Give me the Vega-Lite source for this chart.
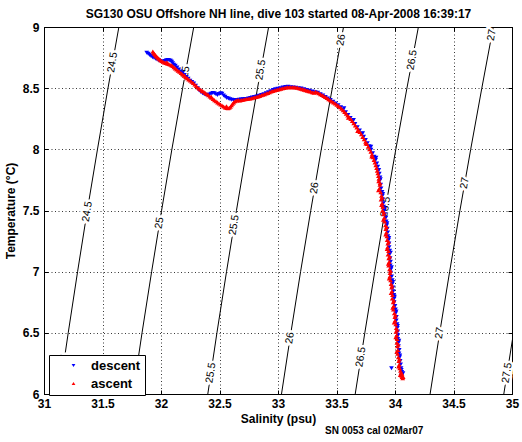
{
"$schema": "https://vega.github.io/schema/vega-lite/v6.json",
"width": 468, "height": 367,
"autosize": {"type": "none"},
"padding": {"left": 44, "top": 27, "right": 10, "bottom": 48},
"background": "white",
"title": {"text": "SN 0053 cal 02Mar07", "orient": "bottom", "anchor": "start", "frame": "group", "dx": 281, "offset": 2, "fontSize": 10, "fontWeight": "bold", "font": "Liberation Sans", "color": "black"},
"config": {
 "view": {"stroke": "black", "strokeWidth": 1},
 "style": {"guide-label": {"font": "Liberation Sans", "fontWeight": 700, "fontSize": 12, "fill": "black"}},
 "axis": {"labelFont": "Liberation Sans", "titleFont": "Liberation Sans", "labelFontSize": 12, "labelFontWeight": 700, "titleFontSize": 12, "titleFontWeight": "bold", "labelColor": "black", "titleColor": "black", "domainColor": "black", "tickColor": "black", "tickSize": -4, "gridColor": "#222", "gridDash": [1, 2.5], "gridOpacity": 0.9, "labelFlush": false, "labelOverlap": false, "labelBound": false}
},
"datasets": {
 "contours": [
  {"lev": "24.5", "S": 31.13, "T": 6}, {"lev": "24.5", "S": 31.207, "T": 6.5}, {"lev": "24.5", "S": 31.287, "T": 7}, {"lev": "24.5", "S": 31.37, "T": 7.5}, {"lev": "24.5", "S": 31.457, "T": 8}, {"lev": "24.5", "S": 31.547, "T": 8.5}, {"lev": "24.5", "S": 31.64, "T": 9},
  {"lev": "25", "S": 31.76, "T": 6}, {"lev": "25", "S": 31.838, "T": 6.5}, {"lev": "25", "S": 31.92, "T": 7}, {"lev": "25", "S": 32.005, "T": 7.5}, {"lev": "25", "S": 32.093, "T": 8}, {"lev": "25", "S": 32.185, "T": 8.5}, {"lev": "25", "S": 32.28, "T": 9},
  {"lev": "25.5", "S": 32.40, "T": 6}, {"lev": "25.5", "S": 32.478, "T": 6.5}, {"lev": "25.5", "S": 32.56, "T": 7}, {"lev": "25.5", "S": 32.645, "T": 7.5}, {"lev": "25.5", "S": 32.733, "T": 8}, {"lev": "25.5", "S": 32.825, "T": 8.5}, {"lev": "25.5", "S": 32.92, "T": 9},
  {"lev": "26", "S": 33.03, "T": 6}, {"lev": "26", "S": 33.11, "T": 6.5}, {"lev": "26", "S": 33.193, "T": 7}, {"lev": "26", "S": 33.28, "T": 7.5}, {"lev": "26", "S": 33.37, "T": 8}, {"lev": "26", "S": 33.464, "T": 8.5}, {"lev": "26", "S": 33.56, "T": 9},
  {"lev": "26.5", "S": 33.66, "T": 6}, {"lev": "26.5", "S": 33.742, "T": 6.5}, {"lev": "26.5", "S": 33.827, "T": 7}, {"lev": "26.5", "S": 33.915, "T": 7.5}, {"lev": "26.5", "S": 34.007, "T": 8}, {"lev": "26.5", "S": 34.102, "T": 8.5}, {"lev": "26.5", "S": 34.20, "T": 9},
  {"lev": "27", "S": 34.30, "T": 6}, {"lev": "27", "S": 34.382, "T": 6.5}, {"lev": "27", "S": 34.467, "T": 7}, {"lev": "27", "S": 34.555, "T": 7.5}, {"lev": "27", "S": 34.647, "T": 8}, {"lev": "27", "S": 34.742, "T": 8.5}, {"lev": "27", "S": 34.84, "T": 9},
  {"lev": "27.5", "S": 34.93, "T": 6}, {"lev": "27.5", "S": 35.013, "T": 6.5}, {"lev": "27.5", "S": 35.10, "T": 7}
 ],
 "labels": [
  {"lev": "24.5", "S": 31.586, "T": 8.71}, {"lev": "24.5", "S": 31.37, "T": 7.49}, {"lev": "24.5", "S": 31.166, "T": 6.24},
  {"lev": "25", "S": 32.21, "T": 8.632}, {"lev": "25", "S": 31.987, "T": 7.398},
  {"lev": "25.5", "S": 32.853, "T": 8.649}, {"lev": "25.5", "S": 32.625, "T": 7.381}, {"lev": "25.5", "S": 32.427, "T": 6.172},
  {"lev": "26", "S": 33.54, "T": 8.894}, {"lev": "26", "S": 33.313, "T": 7.684}, {"lev": "26", "S": 33.103, "T": 6.458},
  {"lev": "26.5", "S": 34.147, "T": 8.73}, {"lev": "26.5", "S": 33.92, "T": 7.529}, {"lev": "26.5", "S": 33.709, "T": 6.302},
  {"lev": "27", "S": 34.827, "T": 8.935}, {"lev": "27", "S": 34.596, "T": 7.725}, {"lev": "27", "S": 34.381, "T": 6.499},
  {"lev": "27.5", "S": 34.958, "T": 6.172}
 ],
 "profile": [
  {"c":"descent","S":31.878,"T":8.790},{"c":"descent","S":31.890,"T":8.781},{"c":"descent","S":31.902,"T":8.772},{"c":"descent","S":31.915,"T":8.762},{"c":"descent","S":31.928,"T":8.754},{"c":"descent","S":31.940,"T":8.748},{"c":"descent","S":31.953,"T":8.741},{"c":"descent","S":31.966,"T":8.734},{"c":"descent","S":31.980,"T":8.728},{"c":"descent","S":31.993,"T":8.722},
  {"c":"descent","S":32.006,"T":8.718},{"c":"descent","S":32.020,"T":8.716},{"c":"descent","S":32.033,"T":8.722},{"c":"descent","S":32.046,"T":8.728},{"c":"descent","S":32.058,"T":8.731},{"c":"descent","S":32.070,"T":8.727},{"c":"descent","S":32.082,"T":8.724},{"c":"descent","S":32.092,"T":8.716},{"c":"descent","S":32.100,"T":8.703},{"c":"descent","S":32.110,"T":8.692},
  {"c":"descent","S":32.122,"T":8.682},{"c":"descent","S":32.137,"T":8.668},{"c":"descent","S":32.152,"T":8.652},{"c":"descent","S":32.168,"T":8.637},{"c":"descent","S":32.184,"T":8.624},{"c":"descent","S":32.200,"T":8.608},{"c":"descent","S":32.216,"T":8.592},{"c":"descent","S":32.232,"T":8.576},{"c":"descent","S":32.248,"T":8.561},{"c":"descent","S":32.264,"T":8.550},
  {"c":"descent","S":32.280,"T":8.537},{"c":"descent","S":32.296,"T":8.520},{"c":"descent","S":32.312,"T":8.500},{"c":"descent","S":32.326,"T":8.481},{"c":"descent","S":32.340,"T":8.468},{"c":"descent","S":32.355,"T":8.458},{"c":"descent","S":32.370,"T":8.450},{"c":"descent","S":32.385,"T":8.444},{"c":"descent","S":32.400,"T":8.444},{"c":"descent","S":32.414,"T":8.448},
  {"c":"descent","S":32.428,"T":8.455},{"c":"descent","S":32.442,"T":8.460},{"c":"descent","S":32.456,"T":8.458},{"c":"descent","S":32.470,"T":8.450},{"c":"descent","S":32.483,"T":8.444},{"c":"descent","S":32.497,"T":8.452},{"c":"descent","S":32.510,"T":8.458},{"c":"descent","S":32.522,"T":8.455},{"c":"descent","S":32.535,"T":8.440},{"c":"descent","S":32.548,"T":8.430},
  {"c":"descent","S":32.562,"T":8.420},{"c":"descent","S":32.576,"T":8.416},{"c":"descent","S":32.590,"T":8.410},{"c":"descent","S":32.605,"T":8.405},{"c":"descent","S":32.620,"T":8.403},{"c":"descent","S":32.636,"T":8.404},{"c":"descent","S":32.652,"T":8.403},{"c":"descent","S":32.668,"T":8.406},{"c":"descent","S":32.684,"T":8.408},{"c":"descent","S":32.700,"T":8.409},
  {"c":"descent","S":32.716,"T":8.411},{"c":"descent","S":32.732,"T":8.411},{"c":"descent","S":32.748,"T":8.416},{"c":"descent","S":32.764,"T":8.420},{"c":"descent","S":32.780,"T":8.423},{"c":"descent","S":32.798,"T":8.427},{"c":"descent","S":32.818,"T":8.432},{"c":"descent","S":32.838,"T":8.438},{"c":"descent","S":32.858,"T":8.444},{"c":"descent","S":32.878,"T":8.450},
  {"c":"descent","S":32.898,"T":8.458},{"c":"descent","S":32.918,"T":8.466},{"c":"descent","S":32.938,"T":8.474},{"c":"descent","S":32.958,"T":8.484},{"c":"descent","S":32.978,"T":8.491},{"c":"descent","S":32.998,"T":8.496},{"c":"descent","S":33.020,"T":8.500},{"c":"descent","S":33.042,"T":8.505},{"c":"descent","S":33.064,"T":8.510},{"c":"descent","S":33.086,"T":8.512},
  {"c":"descent","S":33.108,"T":8.507},{"c":"descent","S":33.130,"T":8.506},{"c":"descent","S":33.152,"T":8.504},{"c":"descent","S":33.175,"T":8.500},{"c":"descent","S":33.198,"T":8.497},{"c":"descent","S":33.222,"T":8.490},{"c":"descent","S":33.246,"T":8.484},{"c":"descent","S":33.270,"T":8.478},{"c":"descent","S":33.294,"T":8.472},{"c":"descent","S":33.318,"T":8.466},
  {"c":"descent","S":33.340,"T":8.462},{"c":"descent","S":33.362,"T":8.451},{"c":"descent","S":33.384,"T":8.440},{"c":"descent","S":33.405,"T":8.428},{"c":"descent","S":33.426,"T":8.415},{"c":"descent","S":33.448,"T":8.402},{"c":"descent","S":33.470,"T":8.389},{"c":"descent","S":33.492,"T":8.375},{"c":"descent","S":33.514,"T":8.360},{"c":"descent","S":33.536,"T":8.343},
  {"c":"descent","S":33.557,"T":8.324},{"c":"descent","S":33.578,"T":8.303},{"c":"descent","S":33.598,"T":8.280},{"c":"descent","S":33.618,"T":8.256},{"c":"descent","S":33.638,"T":8.232},{"c":"descent","S":33.658,"T":8.206},{"c":"descent","S":33.678,"T":8.180},{"c":"descent","S":33.697,"T":8.154},{"c":"descent","S":33.715,"T":8.128},{"c":"descent","S":33.732,"T":8.102},
  {"c":"descent","S":33.748,"T":8.076},{"c":"descent","S":33.764,"T":8.050},{"c":"descent","S":33.780,"T":8.024},{"c":"descent","S":33.795,"T":7.996},{"c":"descent","S":33.809,"T":7.968},{"c":"descent","S":33.822,"T":7.940},{"c":"descent","S":33.834,"T":7.912},{"c":"descent","S":33.845,"T":7.884},{"c":"descent","S":33.853,"T":7.858},{"c":"descent","S":33.862,"T":7.830},
  {"c":"descent","S":33.866,"T":7.800},{"c":"descent","S":33.872,"T":7.770},{"c":"descent","S":33.868,"T":7.740},{"c":"descent","S":33.878,"T":7.710},{"c":"descent","S":33.881,"T":7.680},{"c":"descent","S":33.889,"T":7.650},{"c":"descent","S":33.893,"T":7.620},{"c":"descent","S":33.897,"T":7.590},{"c":"descent","S":33.901,"T":7.560},{"c":"descent","S":33.904,"T":7.530},
  {"c":"descent","S":33.910,"T":7.500},{"c":"descent","S":33.913,"T":7.470},{"c":"descent","S":33.922,"T":7.440},{"c":"descent","S":33.925,"T":7.410},{"c":"descent","S":33.930,"T":7.380},{"c":"descent","S":33.934,"T":7.350},{"c":"descent","S":33.938,"T":7.320},{"c":"descent","S":33.940,"T":7.290},{"c":"descent","S":33.946,"T":7.260},{"c":"descent","S":33.949,"T":7.230},
  {"c":"descent","S":33.950,"T":7.200},{"c":"descent","S":33.955,"T":7.170},{"c":"descent","S":33.952,"T":7.140},{"c":"descent","S":33.958,"T":7.110},{"c":"descent","S":33.962,"T":7.080},{"c":"descent","S":33.960,"T":7.050},{"c":"descent","S":33.966,"T":7.020},{"c":"descent","S":33.964,"T":6.990},{"c":"descent","S":33.972,"T":6.960},{"c":"descent","S":33.976,"T":6.930},
  {"c":"descent","S":33.978,"T":6.900},{"c":"descent","S":33.984,"T":6.870},{"c":"descent","S":33.986,"T":6.840},{"c":"descent","S":33.990,"T":6.810},{"c":"descent","S":33.994,"T":6.780},{"c":"descent","S":33.993,"T":6.750},{"c":"descent","S":34.000,"T":6.720},{"c":"descent","S":34.004,"T":6.690},{"c":"descent","S":34.006,"T":6.660},{"c":"descent","S":34.012,"T":6.630},
  {"c":"descent","S":34.011,"T":6.600},{"c":"descent","S":34.018,"T":6.570},{"c":"descent","S":34.020,"T":6.540},{"c":"descent","S":34.024,"T":6.510},{"c":"descent","S":34.026,"T":6.480},{"c":"descent","S":34.024,"T":6.450},{"c":"descent","S":34.031,"T":6.420},{"c":"descent","S":34.030,"T":6.390},{"c":"descent","S":34.036,"T":6.360},{"c":"descent","S":34.034,"T":6.330},
  {"c":"descent","S":34.040,"T":6.300},{"c":"descent","S":34.044,"T":6.270},{"c":"descent","S":34.048,"T":6.240},{"c":"descent","S":34.052,"T":6.210},{"c":"descent","S":34.058,"T":6.180},{"c":"descent","S":34.062,"T":6.160},{"c":"descent","S":34.055,"T":6.150},{"c":"descent","S":33.970,"T":6.210},
  {"c":"descent","S":33.876,"T":7.755},{"c":"descent","S":33.896,"T":7.635},{"c":"descent","S":33.912,"T":7.515},{"c":"descent","S":33.932,"T":7.395},{"c":"descent","S":33.948,"T":7.275},{"c":"descent","S":33.962,"T":7.155},{"c":"descent","S":33.970,"T":7.035},{"c":"descent","S":33.982,"T":6.915},{"c":"descent","S":33.996,"T":6.795},{"c":"descent","S":34.010,"T":6.675},
  {"c":"descent","S":34.022,"T":6.555},{"c":"descent","S":34.034,"T":6.435},{"c":"descent","S":34.042,"T":6.315},{"c":"descent","S":34.054,"T":6.195},{"c":"descent","S":34.068,"T":6.170},{"c":"descent","S":33.564,"T":8.336},{"c":"descent","S":33.646,"T":8.240},{"c":"descent","S":33.724,"T":8.132},{"c":"descent","S":33.794,"T":8.020},{"c":"descent","S":33.838,"T":7.930},
  {"c":"ascent","S":31.930,"T":8.800},{"c":"ascent","S":31.937,"T":8.790},{"c":"ascent","S":31.944,"T":8.780},{"c":"ascent","S":31.952,"T":8.770},{"c":"ascent","S":31.960,"T":8.761},{"c":"ascent","S":31.968,"T":8.752},{"c":"ascent","S":31.977,"T":8.744},{"c":"ascent","S":31.986,"T":8.736},{"c":"ascent","S":31.996,"T":8.729},{"c":"ascent","S":32.006,"T":8.722},
  {"c":"ascent","S":32.017,"T":8.716},{"c":"ascent","S":32.028,"T":8.710},{"c":"ascent","S":32.040,"T":8.706},{"c":"ascent","S":32.052,"T":8.702},{"c":"ascent","S":32.064,"T":8.698},{"c":"ascent","S":32.076,"T":8.693},{"c":"ascent","S":32.088,"T":8.688},{"c":"ascent","S":32.099,"T":8.681},{"c":"ascent","S":32.110,"T":8.672},{"c":"ascent","S":32.121,"T":8.662},
  {"c":"ascent","S":32.133,"T":8.652},{"c":"ascent","S":32.145,"T":8.643},{"c":"ascent","S":32.158,"T":8.634},{"c":"ascent","S":32.171,"T":8.624},{"c":"ascent","S":32.184,"T":8.613},{"c":"ascent","S":32.197,"T":8.602},{"c":"ascent","S":32.210,"T":8.592},{"c":"ascent","S":32.223,"T":8.582},{"c":"ascent","S":32.236,"T":8.572},{"c":"ascent","S":32.249,"T":8.562},
  {"c":"ascent","S":32.262,"T":8.552},{"c":"ascent","S":32.275,"T":8.542},{"c":"ascent","S":32.288,"T":8.530},{"c":"ascent","S":32.301,"T":8.518},{"c":"ascent","S":32.314,"T":8.506},{"c":"ascent","S":32.327,"T":8.496},{"c":"ascent","S":32.340,"T":8.487},{"c":"ascent","S":32.353,"T":8.478},{"c":"ascent","S":32.366,"T":8.470},{"c":"ascent","S":32.379,"T":8.461},
  {"c":"ascent","S":32.392,"T":8.452},{"c":"ascent","S":32.405,"T":8.443},{"c":"ascent","S":32.418,"T":8.432},{"c":"ascent","S":32.431,"T":8.422},{"c":"ascent","S":32.444,"T":8.412},{"c":"ascent","S":32.457,"T":8.402},{"c":"ascent","S":32.470,"T":8.393},{"c":"ascent","S":32.483,"T":8.384},{"c":"ascent","S":32.496,"T":8.375},{"c":"ascent","S":32.509,"T":8.366},
  {"c":"ascent","S":32.522,"T":8.358},{"c":"ascent","S":32.535,"T":8.350},{"c":"ascent","S":32.548,"T":8.343},{"c":"ascent","S":32.561,"T":8.338},{"c":"ascent","S":32.573,"T":8.336},{"c":"ascent","S":32.584,"T":8.340},{"c":"ascent","S":32.594,"T":8.348},{"c":"ascent","S":32.603,"T":8.360},{"c":"ascent","S":32.612,"T":8.372},{"c":"ascent","S":32.622,"T":8.384},
  {"c":"ascent","S":32.634,"T":8.394},{"c":"ascent","S":32.648,"T":8.400},{"c":"ascent","S":32.662,"T":8.402},{"c":"ascent","S":32.676,"T":8.400},{"c":"ascent","S":32.690,"T":8.404},{"c":"ascent","S":32.704,"T":8.406},{"c":"ascent","S":32.718,"T":8.409},{"c":"ascent","S":32.732,"T":8.412},{"c":"ascent","S":32.746,"T":8.414},{"c":"ascent","S":32.760,"T":8.416},
  {"c":"ascent","S":32.774,"T":8.418},{"c":"ascent","S":32.788,"T":8.422},{"c":"ascent","S":32.802,"T":8.425},{"c":"ascent","S":32.816,"T":8.428},{"c":"ascent","S":32.830,"T":8.433},{"c":"ascent","S":32.844,"T":8.437},{"c":"ascent","S":32.858,"T":8.442},{"c":"ascent","S":32.872,"T":8.446},{"c":"ascent","S":32.886,"T":8.451},{"c":"ascent","S":32.900,"T":8.456},
  {"c":"ascent","S":32.914,"T":8.461},{"c":"ascent","S":32.928,"T":8.467},{"c":"ascent","S":32.942,"T":8.472},{"c":"ascent","S":32.956,"T":8.477},{"c":"ascent","S":32.970,"T":8.481},{"c":"ascent","S":32.984,"T":8.485},{"c":"ascent","S":32.998,"T":8.489},{"c":"ascent","S":33.012,"T":8.492},{"c":"ascent","S":33.026,"T":8.496},{"c":"ascent","S":33.040,"T":8.499},
  {"c":"ascent","S":33.054,"T":8.502},{"c":"ascent","S":33.068,"T":8.505},{"c":"ascent","S":33.082,"T":8.507},{"c":"ascent","S":33.096,"T":8.508},{"c":"ascent","S":33.110,"T":8.508},{"c":"ascent","S":33.124,"T":8.508},{"c":"ascent","S":33.138,"T":8.507},{"c":"ascent","S":33.152,"T":8.505},{"c":"ascent","S":33.166,"T":8.503},{"c":"ascent","S":33.180,"T":8.500},
  {"c":"ascent","S":33.194,"T":8.496},{"c":"ascent","S":33.208,"T":8.492},{"c":"ascent","S":33.222,"T":8.488},{"c":"ascent","S":33.236,"T":8.484},{"c":"ascent","S":33.250,"T":8.480},{"c":"ascent","S":33.264,"T":8.476},{"c":"ascent","S":33.278,"T":8.472},{"c":"ascent","S":33.292,"T":8.467},{"c":"ascent","S":33.306,"T":8.462},{"c":"ascent","S":33.320,"T":8.470},
  {"c":"ascent","S":33.334,"T":8.464},{"c":"ascent","S":33.348,"T":8.458},{"c":"ascent","S":33.362,"T":8.451},{"c":"ascent","S":33.376,"T":8.444},{"c":"ascent","S":33.390,"T":8.436},{"c":"ascent","S":33.404,"T":8.428},{"c":"ascent","S":33.418,"T":8.419},{"c":"ascent","S":33.432,"T":8.410},{"c":"ascent","S":33.446,"T":8.401},{"c":"ascent","S":33.460,"T":8.392},
  {"c":"ascent","S":33.474,"T":8.383},{"c":"ascent","S":33.488,"T":8.374},{"c":"ascent","S":33.502,"T":8.365},{"c":"ascent","S":33.516,"T":8.355},{"c":"ascent","S":33.530,"T":8.344},{"c":"ascent","S":33.543,"T":8.333},{"c":"ascent","S":33.556,"T":8.320},{"c":"ascent","S":33.569,"T":8.306},{"c":"ascent","S":33.582,"T":8.292},{"c":"ascent","S":33.595,"T":8.277},
  {"c":"ascent","S":33.608,"T":8.262},{"c":"ascent","S":33.621,"T":8.248},{"c":"ascent","S":33.634,"T":8.232},{"c":"ascent","S":33.647,"T":8.214},{"c":"ascent","S":33.660,"T":8.195},{"c":"ascent","S":33.673,"T":8.178},{"c":"ascent","S":33.686,"T":8.160},{"c":"ascent","S":33.699,"T":8.142},{"c":"ascent","S":33.712,"T":8.123},{"c":"ascent","S":33.724,"T":8.102},
  {"c":"ascent","S":33.736,"T":8.082},{"c":"ascent","S":33.748,"T":8.062},{"c":"ascent","S":33.760,"T":8.043},{"c":"ascent","S":33.771,"T":8.022},{"c":"ascent","S":33.782,"T":8.001},{"c":"ascent","S":33.793,"T":7.980},{"c":"ascent","S":33.803,"T":7.958},{"c":"ascent","S":33.812,"T":7.936},{"c":"ascent","S":33.820,"T":7.914},{"c":"ascent","S":33.828,"T":7.892},
  {"c":"ascent","S":33.835,"T":7.870},{"c":"ascent","S":33.842,"T":7.848},{"c":"ascent","S":33.848,"T":7.826},{"c":"ascent","S":33.853,"T":7.804},{"c":"ascent","S":33.858,"T":7.782},{"c":"ascent","S":33.862,"T":7.760},{"c":"ascent","S":33.860,"T":7.740},{"c":"ascent","S":33.870,"T":7.710},{"c":"ascent","S":33.866,"T":7.680},{"c":"ascent","S":33.878,"T":7.650},
  {"c":"ascent","S":33.884,"T":7.620},{"c":"ascent","S":33.880,"T":7.590},{"c":"ascent","S":33.890,"T":7.560},{"c":"ascent","S":33.896,"T":7.530},{"c":"ascent","S":33.893,"T":7.500},{"c":"ascent","S":33.902,"T":7.470},{"c":"ascent","S":33.908,"T":7.440},{"c":"ascent","S":33.912,"T":7.410},{"c":"ascent","S":33.918,"T":7.380},{"c":"ascent","S":33.921,"T":7.350},
  {"c":"ascent","S":33.926,"T":7.320},{"c":"ascent","S":33.930,"T":7.290},{"c":"ascent","S":33.933,"T":7.260},{"c":"ascent","S":33.938,"T":7.230},{"c":"ascent","S":33.936,"T":7.200},{"c":"ascent","S":33.944,"T":7.170},{"c":"ascent","S":33.940,"T":7.140},{"c":"ascent","S":33.946,"T":7.110},{"c":"ascent","S":33.950,"T":7.080},{"c":"ascent","S":33.946,"T":7.050},
  {"c":"ascent","S":33.953,"T":7.020},{"c":"ascent","S":33.957,"T":6.990},{"c":"ascent","S":33.955,"T":6.960},{"c":"ascent","S":33.962,"T":6.930},{"c":"ascent","S":33.966,"T":6.900},{"c":"ascent","S":33.970,"T":6.870},{"c":"ascent","S":33.974,"T":6.840},{"c":"ascent","S":33.978,"T":6.810},{"c":"ascent","S":33.976,"T":6.780},{"c":"ascent","S":33.984,"T":6.750},
  {"c":"ascent","S":33.988,"T":6.720},{"c":"ascent","S":33.986,"T":6.690},{"c":"ascent","S":33.994,"T":6.660},{"c":"ascent","S":33.998,"T":6.630},{"c":"ascent","S":34.000,"T":6.600},{"c":"ascent","S":34.006,"T":6.570},{"c":"ascent","S":34.010,"T":6.540},{"c":"ascent","S":34.008,"T":6.510},{"c":"ascent","S":34.014,"T":6.480},{"c":"ascent","S":34.018,"T":6.450},
  {"c":"ascent","S":34.016,"T":6.420},{"c":"ascent","S":34.020,"T":6.390},{"c":"ascent","S":34.024,"T":6.360},{"c":"ascent","S":34.022,"T":6.330},{"c":"ascent","S":34.028,"T":6.300},{"c":"ascent","S":34.032,"T":6.270},{"c":"ascent","S":34.036,"T":6.240},{"c":"ascent","S":34.040,"T":6.210},{"c":"ascent","S":34.046,"T":6.190},{"c":"ascent","S":34.050,"T":6.170},
  {"c":"ascent","S":34.056,"T":6.150},{"c":"ascent","S":34.060,"T":6.140},{"c":"ascent","S":34.066,"T":6.130},
  {"c":"ascent","S":33.872,"T":7.725},{"c":"ascent","S":33.858,"T":7.665},{"c":"ascent","S":33.889,"T":7.605},{"c":"ascent","S":33.884,"T":7.545},{"c":"ascent","S":33.905,"T":7.485},{"c":"ascent","S":33.900,"T":7.425},{"c":"ascent","S":33.928,"T":7.365},{"c":"ascent","S":33.920,"T":7.305},{"c":"ascent","S":33.945,"T":7.245},{"c":"ascent","S":33.932,"T":7.185},
  {"c":"ascent","S":33.955,"T":7.125},{"c":"ascent","S":33.942,"T":7.065},{"c":"ascent","S":33.962,"T":7.005},{"c":"ascent","S":33.950,"T":6.945},{"c":"ascent","S":33.975,"T":6.885},{"c":"ascent","S":33.966,"T":6.825},{"c":"ascent","S":33.990,"T":6.765},{"c":"ascent","S":33.980,"T":6.705},{"c":"ascent","S":34.004,"T":6.645},{"c":"ascent","S":33.992,"T":6.585},
  {"c":"ascent","S":34.018,"T":6.525},{"c":"ascent","S":34.006,"T":6.465},{"c":"ascent","S":34.028,"T":6.405},{"c":"ascent","S":34.014,"T":6.345},{"c":"ascent","S":34.038,"T":6.285},{"c":"ascent","S":34.030,"T":6.225},{"c":"ascent","S":34.060,"T":6.165},{"c":"ascent","S":34.044,"T":6.155},{"c":"ascent","S":34.070,"T":6.140},
  {"c":"ascent","S":33.600,"T":8.258},{"c":"ascent","S":33.680,"T":8.150},{"c":"ascent","S":33.750,"T":8.048},{"c":"ascent","S":33.800,"T":7.942},{"c":"ascent","S":32.560,"T":8.352},{"c":"ascent","S":32.430,"T":8.430},{"c":"ascent","S":32.050,"T":8.712},{"c":"ascent","S":32.200,"T":8.604}
 ]
},
"layer": [
 {
  "data": {"name": "contours"},
  "mark": {"type": "line", "color": "black", "strokeWidth": 1, "clip": true},
  "encoding": {
   "x": {"field": "S", "type": "quantitative", "scale": {"domain": [31, 35], "nice": false, "zero": false}, "axis": {"orient": "bottom", "values": [31, 31.5, 32, 32.5, 33, 33.5, 34, 34.5, 35], "format": "~g", "title": "Salinity (psu)", "grid": true, "labelPadding": 8, "titlePadding": 4, "labelFontWeight": 700, "labelFontSize": 12, "titleFontWeight": "bold", "labelFont": "Liberation Sans"}},
   "y": {"field": "T", "type": "quantitative", "scale": {"domain": [6, 9], "nice": false, "zero": false}, "axis": {"orient": "left", "values": [6, 6.5, 7, 7.5, 8, 8.5, 9], "format": "~g", "title": "Temperature (°C)", "grid": true, "labelPadding": 9, "titlePadding": 5, "labelFontWeight": 700, "labelFontSize": 12, "titleFontWeight": "bold", "labelFont": "Liberation Sans"}},
   "detail": {"field": "lev"},
   "order": {"field": "T", "type": "quantitative"}
  }
 },
 {
  "data": {"name": "labels"},
  "mark": {"type": "text", "angle": -81, "fontSize": 10.5, "font": "Liberation Sans", "color": "white", "stroke": "white", "strokeWidth": 5, "align": "center", "baseline": "middle"},
  "encoding": {
   "x": {"field": "S", "type": "quantitative", "axis": null},
   "y": {"field": "T", "type": "quantitative", "axis": null},
   "text": {"field": "lev"}
  }
 },
 {
  "data": {"name": "labels"},
  "mark": {"type": "text", "angle": -81, "fontSize": 10.5, "font": "Liberation Sans", "color": "black", "align": "center", "baseline": "middle"},
  "encoding": {
   "x": {"field": "S", "type": "quantitative", "axis": null},
   "y": {"field": "T", "type": "quantitative", "axis": null},
   "text": {"field": "lev"}
  }
 },
 {
  "data": {"name": "profile"},
  "mark": {"type": "point", "filled": true, "size": 22, "opacity": 1, "strokeWidth": 0},
  "encoding": {
   "x": {"field": "S", "type": "quantitative", "axis": {"orient": "top", "values": [31, 31.5, 32, 32.5, 33, 33.5, 34, 34.5, 35], "labels": false, "grid": false, "title": "SG130 OSU Offshore NH line, dive 103 started 08-Apr-2008 16:39:17", "titlePadding": 6, "titleFontWeight": "bold"}},
   "y": {"field": "T", "type": "quantitative", "axis": {"orient": "right", "values": [6, 6.5, 7, 7.5, 8, 8.5, 9], "labels": false, "grid": false, "title": null}},
   "color": {"field": "c", "type": "nominal", "scale": {"domain": ["descent", "ascent"], "range": ["#0000ff", "#ff0000"]}, "legend": {"orient": "none", "legendX": 5, "legendY": 328, "title": null, "strokeColor": "black", "fillColor": "white", "padding": 4, "rowPadding": 4, "symbolOffset": 14, "labelOffset": 11, "labelFontSize": 13, "labelFontWeight": "bold", "labelFont": "Liberation Sans", "labelColor": "black", "symbolSize": 14}},
   "shape": {"field": "c", "type": "nominal", "scale": {"domain": ["descent", "ascent"], "range": ["triangle-down", "triangle-up"]}}
  }
 }
],
"resolve": {"axis": {"x": "independent", "y": "independent"}}
}
